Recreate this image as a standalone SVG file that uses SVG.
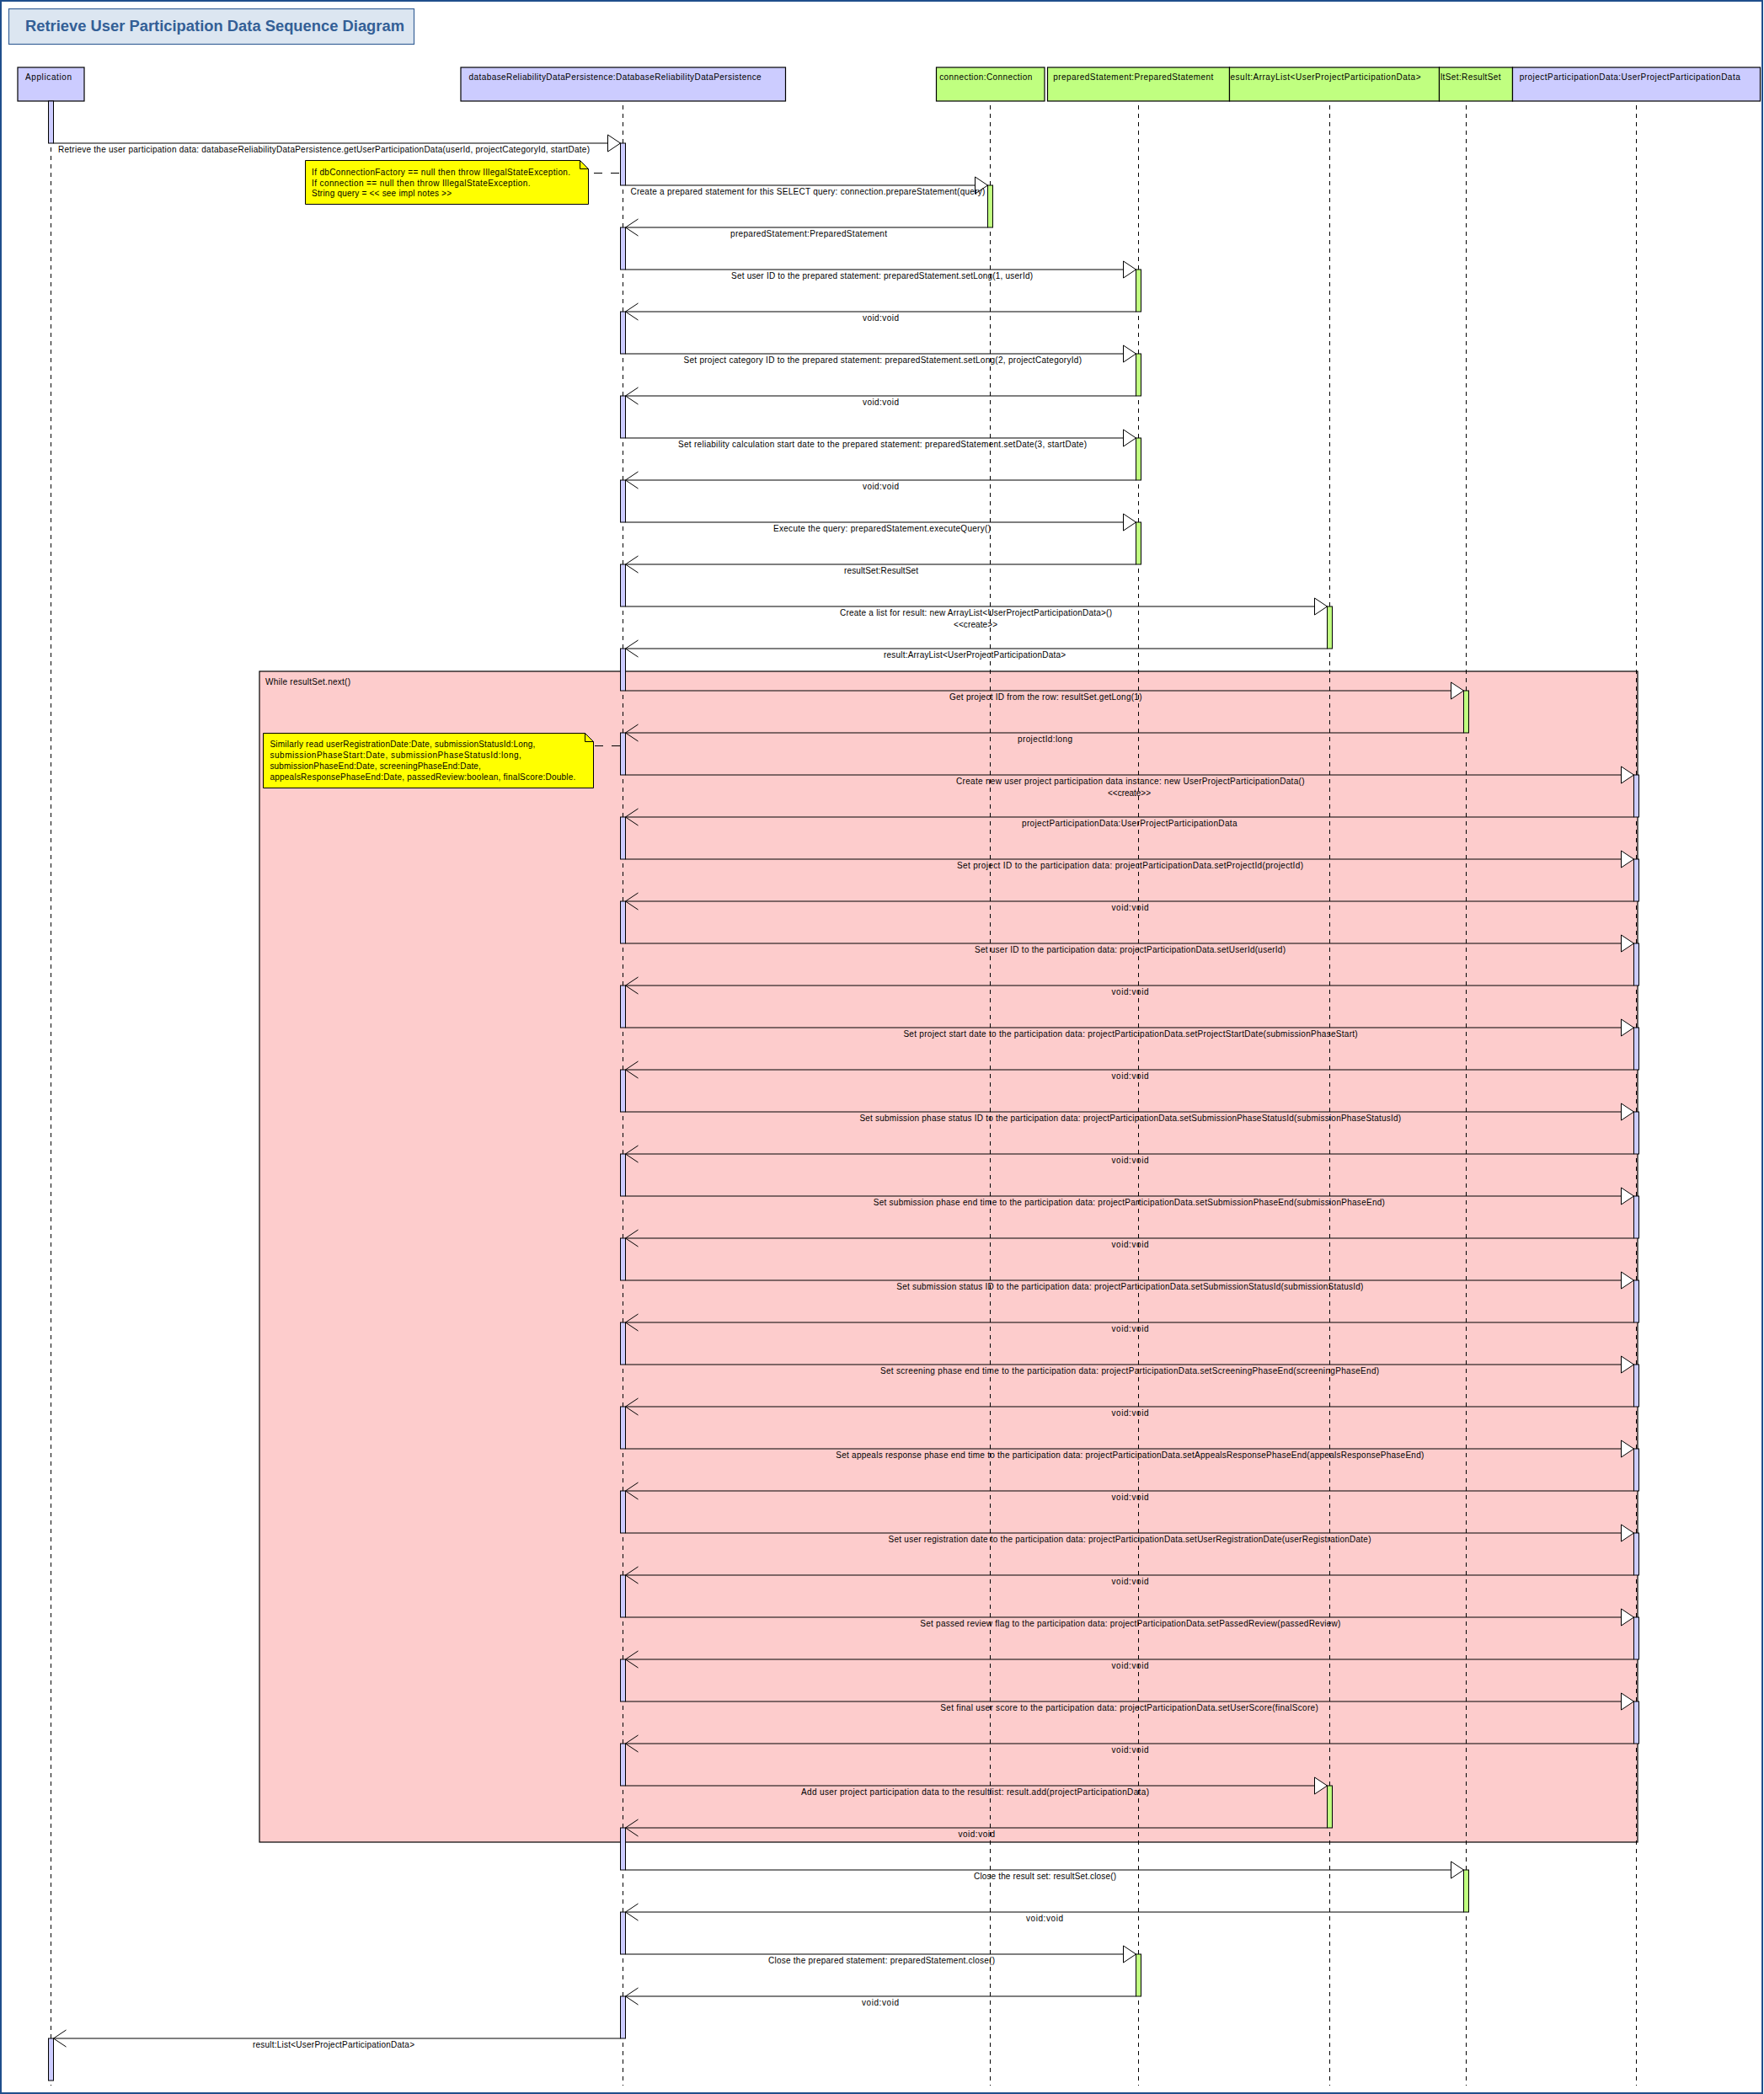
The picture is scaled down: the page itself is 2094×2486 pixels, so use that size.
<svg xmlns="http://www.w3.org/2000/svg" width="2094" height="2486" viewBox="0 0 2094 2486">
  <style>
    text { font-family: "Liberation Sans", Arial, sans-serif; font-size: 10px; fill: #000; }
    .title { font-size: 18px; font-weight: bold; fill: #335f96; }
    .head-blue { fill: #ccccff; stroke: #000; stroke-width: 1.2; }
    .head-green { fill: #c0ff80; stroke: #000; stroke-width: 1.2; }
    .life { stroke: #000; stroke-width: 1; stroke-dasharray: 5 5; fill: none; }
    .bar-blue { fill: #ccccff; stroke: #000; stroke-width: 1; }
    .bar-green { fill: #c0ff80; stroke: #000; stroke-width: 1; }
    .call { stroke: #000; stroke-width: 1.2; fill: none; marker-end: url(#callHead); }
    .ret { stroke: #000; stroke-width: 1.2; fill: none; marker-end: url(#retHead); }
    .note { fill: #ffff00; stroke: #000; stroke-width: 1; }
    .anchor { stroke: #000; stroke-width: 1.2; stroke-dasharray: 10 10; }
  </style>
  <defs>
    <marker id="callHead" markerUnits="userSpaceOnUse" markerWidth="17" markerHeight="22" refX="15.5" refY="11" orient="auto" overflow="visible">
      <path d="M0.5,1 L15.5,11 L0.5,21 Z" fill="#fff" stroke="#000" stroke-width="1"/>
    </marker>
    <marker id="retHead" markerUnits="userSpaceOnUse" markerWidth="17" markerHeight="22" refX="15.5" refY="11" orient="auto" overflow="visible">
      <path d="M0.5,1 L15.5,11 L0.5,21" fill="none" stroke="#000" stroke-width="1"/>
    </marker>
  </defs>

  <!-- page frame -->
  <rect x="0" y="0" width="2094" height="2486" fill="#fff"/>
  <rect x="1" y="1" width="2091" height="2484" fill="none" stroke="#1f4e8c" stroke-width="2"/>

  <!-- title -->
  <g id="title">
    <rect x="10.5" y="10.5" width="481" height="42" fill="#dce6f1" stroke="#3a6398" stroke-width="1.2"/>
    <text class="title" x="30" y="37" textLength="450" lengthAdjust="spacingAndGlyphs">Retrieve User Participation Data Sequence Diagram</text>
  </g>

  <!-- loop fragment -->
  <g id="loop">
    <rect x="308" y="797" width="1636" height="1390" fill="#fdcccc" stroke="#000" stroke-width="1.2"/>
    <text x="315" y="813" textLength="101">While resultSet.next()</text>
  </g>

  <!-- lifelines -->
  <g id="application">
    <rect class="head-blue" x="21" y="80" width="79" height="40"/>
    <text x="30" y="95" textLength="55">Application</text>
    <line class="life" x1="60.5" y1="125" x2="60.5" y2="2476"/>
    <rect class="bar-blue" x="57.5" y="120" width="6" height="50"/>
    <rect class="bar-blue" x="57.5" y="2420" width="6" height="50"/>
  </g>

  <g id="databaseReliabilityDataPersistence">
    <rect class="head-blue" x="547" y="80" width="385.5" height="40"/>
    <text x="556.6" y="95" textLength="347">databaseReliabilityDataPersistence:DatabaseReliabilityDataPersistence</text>
    <line class="life" x1="739.5" y1="125" x2="739.5" y2="2476"/>
    <rect class="bar-blue" x="736.5" y="170" width="6" height="50"/>
    <rect class="bar-blue" x="736.5" y="270" width="6" height="50"/>
    <rect class="bar-blue" x="736.5" y="370" width="6" height="50"/>
    <rect class="bar-blue" x="736.5" y="470" width="6" height="50"/>
    <rect class="bar-blue" x="736.5" y="570" width="6" height="50"/>
    <rect class="bar-blue" x="736.5" y="670" width="6" height="50"/>
    <rect class="bar-blue" x="736.5" y="770" width="6" height="50"/>
    <rect class="bar-blue" x="736.5" y="870" width="6" height="50"/>
    <rect class="bar-blue" x="736.5" y="970" width="6" height="50"/>
    <rect class="bar-blue" x="736.5" y="1070" width="6" height="50"/>
    <rect class="bar-blue" x="736.5" y="1170" width="6" height="50"/>
    <rect class="bar-blue" x="736.5" y="1270" width="6" height="50"/>
    <rect class="bar-blue" x="736.5" y="1370" width="6" height="50"/>
    <rect class="bar-blue" x="736.5" y="1470" width="6" height="50"/>
    <rect class="bar-blue" x="736.5" y="1570" width="6" height="50"/>
    <rect class="bar-blue" x="736.5" y="1670" width="6" height="50"/>
    <rect class="bar-blue" x="736.5" y="1770" width="6" height="50"/>
    <rect class="bar-blue" x="736.5" y="1870" width="6" height="50"/>
    <rect class="bar-blue" x="736.5" y="1970" width="6" height="50"/>
    <rect class="bar-blue" x="736.5" y="2070" width="6" height="50"/>
    <rect class="bar-blue" x="736.5" y="2170" width="6" height="50"/>
    <rect class="bar-blue" x="736.5" y="2270" width="6" height="50"/>
    <rect class="bar-blue" x="736.5" y="2370" width="6" height="50"/>
  </g>

  <g id="connection">
    <rect class="head-green" x="1111.5" y="80" width="128.5" height="40"/>
    <text x="1115.2" y="95" textLength="110">connection:Connection</text>
    <line class="life" x1="1175.5" y1="125" x2="1175.5" y2="2476"/>
    <rect class="bar-green" x="1172.5" y="220" width="6" height="50"/>
  </g>

  <g id="preparedStatement">
    <rect class="head-green" x="1243.5" y="80" width="216" height="40"/>
    <text x="1250.3" y="95" textLength="190">preparedStatement:PreparedStatement</text>
    <line class="life" x1="1351.5" y1="125" x2="1351.5" y2="2476"/>
    <rect class="bar-green" x="1348.5" y="320" width="6" height="50"/>
    <rect class="bar-green" x="1348.5" y="420" width="6" height="50"/>
    <rect class="bar-green" x="1348.5" y="520" width="6" height="50"/>
    <rect class="bar-green" x="1348.5" y="620" width="6" height="50"/>
    <rect class="bar-green" x="1348.5" y="2320" width="6" height="50"/>
  </g>

  <g id="result">
    <rect class="head-green" x="1459.5" y="80" width="249" height="40"/>
    <text x="1460.5" y="95" textLength="226">esult:ArrayList&lt;UserProjectParticipationData&gt;</text>
    <line class="life" x1="1578.5" y1="125" x2="1578.5" y2="2476"/>
    <rect class="bar-green" x="1575.5" y="720" width="6" height="50"/>
    <rect class="bar-green" x="1575.5" y="2120" width="6" height="50"/>
  </g>

  <g id="resultSet">
    <rect class="head-green" x="1708.5" y="80" width="87" height="40"/>
    <text x="1710" y="95" textLength="71.5">ltSet:ResultSet</text>
    <line class="life" x1="1740.5" y1="125" x2="1740.5" y2="2476"/>
    <rect class="bar-green" x="1737.5" y="820" width="6" height="50"/>
    <rect class="bar-green" x="1737.5" y="2220" width="6" height="50"/>
  </g>

  <g id="projectParticipationData">
    <rect class="head-blue" x="1795.5" y="80" width="294" height="40"/>
    <text x="1803.7" y="95" textLength="262">projectParticipationData:UserProjectParticipationData</text>
    <line class="life" x1="1942.5" y1="125" x2="1942.5" y2="2476"/>
    <rect class="bar-blue" x="1939.5" y="920" width="6" height="50"/>
    <rect class="bar-blue" x="1939.5" y="1020" width="6" height="50"/>
    <rect class="bar-blue" x="1939.5" y="1120" width="6" height="50"/>
    <rect class="bar-blue" x="1939.5" y="1220" width="6" height="50"/>
    <rect class="bar-blue" x="1939.5" y="1320" width="6" height="50"/>
    <rect class="bar-blue" x="1939.5" y="1420" width="6" height="50"/>
    <rect class="bar-blue" x="1939.5" y="1520" width="6" height="50"/>
    <rect class="bar-blue" x="1939.5" y="1620" width="6" height="50"/>
    <rect class="bar-blue" x="1939.5" y="1720" width="6" height="50"/>
    <rect class="bar-blue" x="1939.5" y="1820" width="6" height="50"/>
    <rect class="bar-blue" x="1939.5" y="1920" width="6" height="50"/>
    <rect class="bar-blue" x="1939.5" y="2020" width="6" height="50"/>
  </g>

  <!-- messages -->
  <g id="connectors">
    <line class="call" x1="63.5" y1="170" x2="736.5" y2="170"/>
    <text x="69" y="180.5" textLength="631">Retrieve the user participation data: databaseReliabilityDataPersistence.getUserParticipationData(userId, projectCategoryId, startDate)</text>

    <line class="call" x1="742.5" y1="220" x2="1172.5" y2="220"/>
    <text x="748.4" y="230.5" textLength="421">Create a prepared statement for this SELECT query: connection.prepareStatement(query)</text>
    <line class="ret" x1="1172.5" y1="270" x2="742.5" y2="270"/>
    <text x="867" y="280.5" textLength="186">preparedStatement:PreparedStatement</text>

    <line class="call" x1="742.5" y1="320" x2="1348.5" y2="320"/>
    <text x="868" y="330.5" textLength="358">Set user ID to the prepared statement: preparedStatement.setLong(1, userId)</text>
    <line class="ret" x1="1348.5" y1="370" x2="742.5" y2="370"/>
    <text x="1024" y="380.5" textLength="43">void:void</text>

    <line class="call" x1="742.5" y1="420" x2="1348.5" y2="420"/>
    <text x="811.5" y="430.5" textLength="472.5">Set project category ID to the prepared statement: preparedStatement.setLong(2, projectCategoryId)</text>
    <line class="ret" x1="1348.5" y1="470" x2="742.5" y2="470"/>
    <text x="1024" y="480.5" textLength="43">void:void</text>

    <line class="call" x1="742.5" y1="520" x2="1348.5" y2="520"/>
    <text x="805" y="530.5" textLength="485">Set reliability calculation start date to the prepared statement: preparedStatement.setDate(3, startDate)</text>
    <line class="ret" x1="1348.5" y1="570" x2="742.5" y2="570"/>
    <text x="1024" y="580.5" textLength="43">void:void</text>

    <line class="call" x1="742.5" y1="620" x2="1348.5" y2="620"/>
    <text x="918" y="630.5" textLength="258">Execute the query: preparedStatement.executeQuery()</text>
    <line class="ret" x1="1348.5" y1="670" x2="742.5" y2="670"/>
    <text x="1002" y="680.5" textLength="88">resultSet:ResultSet</text>

    <line class="call" x1="742.5" y1="720" x2="1575.5" y2="720"/>
    <text x="997" y="730.5" textLength="323">Create a list for result: new ArrayList&lt;UserProjectParticipationData&gt;()</text>
    <text x="1132" y="744.5" textLength="52">&lt;&lt;create&gt;&gt;</text>
    <line class="ret" x1="1575.5" y1="770" x2="742.5" y2="770"/>
    <text x="1049" y="780.5" textLength="216">result:ArrayList&lt;UserProjectParticipationData&gt;</text>

    <line class="call" x1="742.5" y1="820" x2="1737.5" y2="820"/>
    <text x="1127" y="830.5" textLength="228.5">Get project ID from the row: resultSet.getLong(1)</text>
    <line class="ret" x1="1737.5" y1="870" x2="742.5" y2="870"/>
    <text x="1208" y="880.5" textLength="65">projectId:long</text>

    <line class="call" x1="742.5" y1="920" x2="1939.5" y2="920"/>
    <text x="1135" y="930.5" textLength="413.5">Create new user project participation data instance: new UserProjectParticipationData()</text>
    <text x="1315" y="944.5" textLength="51">&lt;&lt;create&gt;&gt;</text>
    <line class="ret" x1="1939.5" y1="970" x2="742.5" y2="970"/>
    <text x="1213" y="980.5" textLength="255.5">projectParticipationData:UserProjectParticipationData</text>

    <line class="call" x1="742.5" y1="1020" x2="1939.5" y2="1020"/>
    <text x="1136" y="1030.5" textLength="411">Set project ID to the participation data: projectParticipationData.setProjectId(projectId)</text>
    <line class="ret" x1="1939.5" y1="1070" x2="742.5" y2="1070"/>
    <text x="1319.5" y="1080.5" textLength="44">void:void</text>

    <line class="call" x1="742.5" y1="1120" x2="1939.5" y2="1120"/>
    <text x="1157" y="1130.5" textLength="369">Set user ID to the participation data: projectParticipationData.setUserId(userId)</text>
    <line class="ret" x1="1939.5" y1="1170" x2="742.5" y2="1170"/>
    <text x="1319.5" y="1180.5" textLength="44">void:void</text>

    <line class="call" x1="742.5" y1="1220" x2="1939.5" y2="1220"/>
    <text x="1072.4" y="1230.5" textLength="539.3">Set project start date to the participation data: projectParticipationData.setProjectStartDate(submissionPhaseStart)</text>
    <line class="ret" x1="1939.5" y1="1270" x2="742.5" y2="1270"/>
    <text x="1319.5" y="1280.5" textLength="44">void:void</text>

    <line class="call" x1="742.5" y1="1320" x2="1939.5" y2="1320"/>
    <text x="1020.4" y="1330.5" textLength="642.8">Set submission phase status ID to the participation data: projectParticipationData.setSubmissionPhaseStatusId(submissionPhaseStatusId)</text>
    <line class="ret" x1="1939.5" y1="1370" x2="742.5" y2="1370"/>
    <text x="1319.5" y="1380.5" textLength="44">void:void</text>

    <line class="call" x1="742.5" y1="1420" x2="1939.5" y2="1420"/>
    <text x="1036.7" y="1430.5" textLength="607.2">Set submission phase end time to the participation data: projectParticipationData.setSubmissionPhaseEnd(submissionPhaseEnd)</text>
    <line class="ret" x1="1939.5" y1="1470" x2="742.5" y2="1470"/>
    <text x="1319.5" y="1480.5" textLength="44">void:void</text>

    <line class="call" x1="742.5" y1="1520" x2="1939.5" y2="1520"/>
    <text x="1064.3" y="1530.5" textLength="554.1">Set submission status ID to the participation data: projectParticipationData.setSubmissionStatusId(submissionStatusId)</text>
    <line class="ret" x1="1939.5" y1="1570" x2="742.5" y2="1570"/>
    <text x="1319.5" y="1580.5" textLength="44">void:void</text>

    <line class="call" x1="742.5" y1="1620" x2="1939.5" y2="1620"/>
    <text x="1044.9" y="1630.5" textLength="592.3">Set screening phase end time to the participation data: projectParticipationData.setScreeningPhaseEnd(screeningPhaseEnd)</text>
    <line class="ret" x1="1939.5" y1="1670" x2="742.5" y2="1670"/>
    <text x="1319.5" y="1680.5" textLength="44">void:void</text>

    <line class="call" x1="742.5" y1="1720" x2="1939.5" y2="1720"/>
    <text x="992.3" y="1730.5" textLength="698">Set appeals response phase end time to the participation data: projectParticipationData.setAppealsResponsePhaseEnd(appealsResponsePhaseEnd)</text>
    <line class="ret" x1="1939.5" y1="1770" x2="742.5" y2="1770"/>
    <text x="1319.5" y="1780.5" textLength="44">void:void</text>

    <line class="call" x1="742.5" y1="1820" x2="1939.5" y2="1820"/>
    <text x="1054.6" y="1830.5" textLength="572.9">Set user registration date to the participation data: projectParticipationData.setUserRegistrationDate(userRegistrationDate)</text>
    <line class="ret" x1="1939.5" y1="1870" x2="742.5" y2="1870"/>
    <text x="1319.5" y="1880.5" textLength="44">void:void</text>

    <line class="call" x1="742.5" y1="1920" x2="1939.5" y2="1920"/>
    <text x="1092.3" y="1930.5" textLength="499">Set passed review flag to the participation data: projectParticipationData.setPassedReview(passedReview)</text>
    <line class="ret" x1="1939.5" y1="1970" x2="742.5" y2="1970"/>
    <text x="1319.5" y="1980.5" textLength="44">void:void</text>

    <line class="call" x1="742.5" y1="2020" x2="1939.5" y2="2020"/>
    <text x="1116.3" y="2030.5" textLength="448.5">Set final user score to the participation data: projectParticipationData.setUserScore(finalScore)</text>
    <line class="ret" x1="1939.5" y1="2070" x2="742.5" y2="2070"/>
    <text x="1319.5" y="2080.5" textLength="44">void:void</text>

    <line class="call" x1="742.5" y1="2120" x2="1575.5" y2="2120"/>
    <text x="951" y="2130.5" textLength="413">Add user project participation data to the resultlist: result.add(projectParticipationData)</text>
    <line class="ret" x1="1575.5" y1="2170" x2="742.5" y2="2170"/>
    <text x="1137.5" y="2180.5" textLength="43.5">void:void</text>

    <line class="call" x1="742.5" y1="2220" x2="1737.5" y2="2220"/>
    <text x="1156" y="2230.5" textLength="169">Close the result set: resultSet.close()</text>
    <line class="ret" x1="1737.5" y1="2270" x2="742.5" y2="2270"/>
    <text x="1218" y="2280.5" textLength="44">void:void</text>

    <line class="call" x1="742.5" y1="2320" x2="1348.5" y2="2320"/>
    <text x="912" y="2330.5" textLength="269">Close the prepared statement: preparedStatement.close()</text>
    <line class="ret" x1="1348.5" y1="2370" x2="742.5" y2="2370"/>
    <text x="1023" y="2380.5" textLength="44">void:void</text>

    <line class="ret" x1="736.5" y1="2420" x2="63.5" y2="2420"/>
    <text x="300" y="2430.5" textLength="192">result:List&lt;UserProjectParticipationData&gt;</text>
  </g>

  <!-- notes -->
  <g id="note-connection-checks">
    <path class="note" d="M362.5,190.5 H688.5 L698.5,200.5 V242.5 H362.5 Z"/>
    <path d="M688.5,190.5 V200.5 H698.5" fill="none" stroke="#000" stroke-width="1"/>
    <line class="anchor" x1="705" y1="205.5" x2="737" y2="205.5"/>
    <text x="370" y="207.7" textLength="307">If dbConnectionFactory == null then throw IllegalStateException.</text>
    <text x="370" y="220.7" textLength="259.5">If connection == null then throw IllegalStateException.</text>
    <text x="370" y="233.3" textLength="166">String query = &lt;&lt; see impl notes &gt;&gt;</text>
  </g>

  <g id="note-read-fields">
    <path class="note" d="M312.5,870.5 H694.5 L704.5,880.5 V935.5 H312.5 Z"/>
    <path d="M694.5,870.5 V880.5 H704.5" fill="none" stroke="#000" stroke-width="1"/>
    <line class="anchor" x1="706" y1="885.5" x2="737" y2="885.5" stroke-dasharray="10 8"/>
    <text x="320.4" y="887.3" textLength="315">Similarly read userRegistrationDate:Date, submissionStatusId:Long,</text>
    <text x="320.4" y="900.3" textLength="298.5">submissionPhaseStart:Date, submissionPhaseStatusId:long,</text>
    <text x="320.4" y="913.3" textLength="250.5">submissionPhaseEnd:Date, screeningPhaseEnd:Date,</text>
    <text x="320.4" y="926.3" textLength="363">appealsResponsePhaseEnd:Date, passedReview:boolean, finalScore:Double.</text>
  </g>
</svg>
